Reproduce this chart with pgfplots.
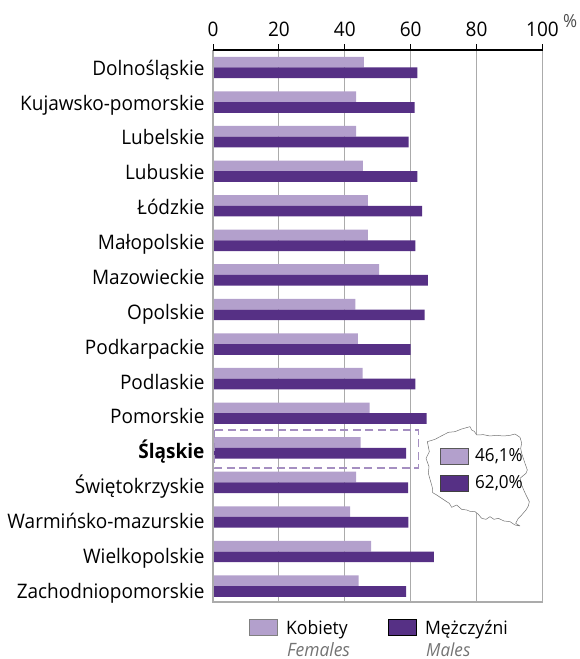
\documentclass[border=0pt]{standalone}
\usepackage{fontspec}
\setmainfont{Open Sans}[FakeStretch=0.95]
\usepackage{pgfplots}
\pgfplotsset{compat=1.18}
\usepackage{pgfplotstable}
\definecolor{lightp}{HTML}{B3A0CC}
\definecolor{darkp}{HTML}{563085}
\definecolor{gridg}{HTML}{ABABAB}
\pgfplotstableread{
y f m
1 45.8 62.0
2 43.4 61.2
3 43.4 59.4
4 45.5 62.0
5 47.0 63.5
6 47.0 61.4
7 50.4 65.2
8 43.2 64.2
9 44.0 60.0
10 45.4 61.4
11 47.5 64.8
12 44.8 58.6
13 43.4 59.2
14 41.6 59.3
15 48.0 67.0
16 44.2 58.6
}\data
\begin{document}
\begin{tikzpicture}[x=1pt,y=1pt]
\path[use as bounding box] (0,0) rectangle (580,659);
\begin{axis}[
  at={(213pt,57pt)}, anchor=south west,
  width=329.5pt, height=552pt, scale only axis,
  xmin=0, xmax=100, ymin=0.494, ymax=16.46,
  y dir=reverse,
  axis on top=false,
  xbar,
  bar width=10.7pt,
  axis x line*=top,
  axis y line*=left,
  axis line style={draw=none},
  xtick={0,20,40,60,80,100},
  xticklabels={0,20,40,60,80,100},
  x tick label style={font=\fontsize{20}{20}\selectfont, text height=14pt, text depth=0pt, yshift=3.5pt},
  xtick style={draw=black, line width=1pt},
  tick align=outside,
  major tick length=6pt,
  xmajorgrids,
  grid style={gridg, line width=1pt},
  ytick={1,2.009,3.017,4.026,5.035,6.044,7.052,8.061,9.07,10.078,11.087,12.096,13.104,14.113,15.122,16.13},
  yticklabels={Dolnośląskie,Kujawsko-pomorskie,Lubelskie,Lubuskie,Łódzkie,Małopolskie,Mazowieckie,Opolskie,Podkarpackie,Podlaskie,Pomorskie,\textbf{Śląskie},Świętokrzyskie,Warmińsko-mazurskie,Wielkopolskie,Zachodniopomorskie},
  y tick label style={font=\fontsize{20}{20}\selectfont, anchor=east, text height=14pt, text depth=4pt, xshift=1pt, yshift=-2.7pt},
  ytick style={draw=none},
  legend columns=2,
  legend style={at={(axis description cs:0.1085,-0.0290)}, anchor=north west, draw=none, fill=none,
     font=\fontsize{18.5}{18.5}\selectfont, inner sep=0pt, outer sep=0pt,
     /tikz/every even column/.append style={column sep=38pt}},
  legend image code/.code={\draw[#1] (0pt,-7pt) rectangle (28pt,9pt);},
  clip=false,
]
\addplot[fill=lightp, draw=none, forget plot, bar shift=5.35pt] table[x=f,y=y]{\data};
\addplot[fill=darkp, draw=none, forget plot, bar shift=-5.35pt] table[x=m,y=y]{\data};
\addlegendimage{fill=lightp,draw=gray}
\addlegendentry{\hspace*{7pt}Kobiety}
\addlegendimage{fill=darkp,draw=black}
\addlegendentry{\hspace*{7pt}Mężczyźni}
% frame lines
\draw[gridg, line width=1.5pt] (axis cs:0,0.494) -- (axis cs:0,16.46) -- (axis cs:100,16.46) -- (axis cs:100,0.494);
\draw[black, line width=2pt] (axis cs:0,0.494) -- (axis cs:100,0.494);
% highlight
\draw[color=lightp!85!darkp, line width=1.5pt, dash pattern=on 8pt off 4.5pt] (axis cs:0.4,11.49) rectangle (axis cs:62.4,12.58);
\end{axis}
\node[anchor=west, inner sep=0pt, font=\fontsize{18}{18}\selectfont, text=black!70] at (563,638) {\%};
\begin{scope}[shift={(420,239)}, x=0.3333pt, y=-0.3333pt]
\draw[fill=white, draw=black!55, line width=0.5pt, line join=round]
 (22,65)--(45,58)--(60,50)--(85,37)--(105,35)--(125,27)--(150,20)--(155,30)--(163,34)--(170,45)--(190,44)--(210,48)--(230,46)--(250,48)--(270,46)--(285,42)--(300,52)--(303,62)--(305,70)--(302,85)--(305,100)--(310,115)--(315,130)--(322,150)--(318,160)--(300,175)--(303,185)--(305,195)--(312,212)--(318,225)--(328,245)--(325,258)--(318,270)--(305,285)--(295,295)--(287,310)--(300,318)--(285,315)--(270,305)--(252,303)--(235,295)--(222,298)--(210,290)--(198,298)--(185,295)--(175,283)--(165,275)--(150,274)--(140,270)--(125,268)--(110,255)--(95,262)--(88,250)--(80,245)--(65,235)--(50,225)--(38,218)--(38,207)--(35,195)--(30,178)--(25,160)--(27,140)--(18,115)--(28,95)--(22,65)--cycle;
\end{scope}
\draw[fill=lightp, draw=black!65, line width=0.7pt] (440,210.7) rectangle (468.7,194.7);
\draw[fill=darkp, draw=black!75, line width=0.7pt] (440,184) rectangle (468.7,168);
\node[anchor=west, inner sep=0pt, font=\fontsize{18}{18}\selectfont] at (475,202.7) {46,1\%};
\node[anchor=west, inner sep=0pt, font=\fontsize{18}{18}\selectfont] at (475,176) {62,0\%};
\node[anchor=base west, inner sep=0pt, font=\itshape\fontsize{18.4}{18.4}\selectfont, text=black!55] at (287,2) {Females};
\node[anchor=base west, inner sep=0pt, font=\itshape\fontsize{18}{18}\selectfont, text=black!55] at (426,2) {Males};
\end{tikzpicture}
\end{document}
